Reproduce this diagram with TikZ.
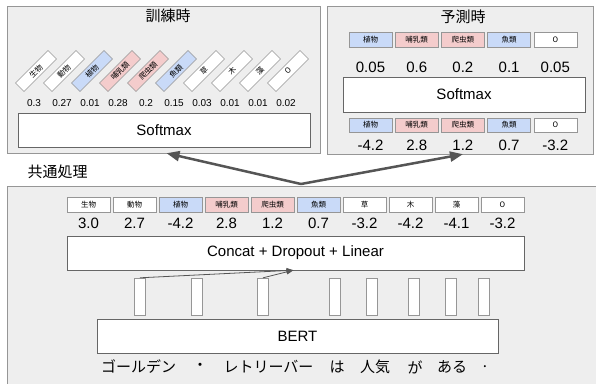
\documentclass[tikz,border=0pt]{standalone}
\usepackage{fontspec}
\setmainfont{Liberation Sans}
\newfontfamily\jpfont{Noto Sans CJK JP}
\usetikzlibrary{arrows.meta,positioning}
\definecolor{pbg}{RGB}{238,238,238}
\definecolor{pedge}{RGB}{150,150,150}
\definecolor{bedge}{RGB}{102,102,102}
\definecolor{lblue}{RGB}{201,218,248}
\definecolor{lpink}{RGB}{244,204,204}
\definecolor{aline}{RGB}{85,85,85}

\begin{document}
\begin{tikzpicture}[x=1pt,y=-1pt,
  panel/.style={draw=pedge,fill=pbg,inner sep=0pt},
  lab/.style={draw=pedge,minimum width=43pt,minimum height=15pt,inner sep=0pt,font=\jpfont\fontsize{7.5}{8}\selectfont},
  rlab/.style={lab,rotate=45,minimum width=46pt,minimum height=12pt},
  bigbox/.style={draw=bedge,fill=white,inner sep=0pt,font=\fontsize{15}{18}\selectfont},
  num/.style={font=\fontsize{15}{18}\selectfont,inner sep=0pt},
  snum/.style={font=\fontsize{10}{12}\selectfont,inner sep=0pt},
  title/.style={font=\jpfont\fontsize{15}{18}\selectfont,inner sep=0pt},
  vec/.style={draw=pedge,fill=white,minimum width=11pt,minimum height=37pt,inner sep=0pt},
  bigarr/.style={-{Triangle[length=13pt,width=10pt]},line width=2.5pt,aline},
  arr/.style={-{Triangle[length=7pt,width=5pt]},line width=0.8pt,aline}]
\clip (0,0) rectangle (596,383);
\fill[white] (0,0) rectangle (596,383);
% three panels
\node[panel,minimum width=313pt,minimum height=147pt] (train) at (163.5,79.5) {};
\node[panel,minimum width=266pt,minimum height=148pt] (pred) at (460,80) {};
\node[panel,minimum width=593pt,minimum height=204pt] (common) at (303.5,288) {};
\node[title] (ttrain) at (168,16) {訓練時};
\node[title] (tpred) at (463,17) {予測時};
\node[title] (tcommon) at (57.5,172) {共通処理};
% training side
\foreach \lab/\col/\val [count=\i from 0] in {生物/white/0.3,動物/white/0.27,植物/lblue/0.01,哺乳類/lpink/0.28,爬虫類/lpink/0.2,魚類/lblue/0.15,草/white/0.03,木/white/0.01,藻/white/0.01,O/white/0.02}{
  \node[rlab,fill=\col] (tl\i) at (36+28*\i,71) {\lab};
  \node[snum] (tv\i) at (34+28*\i,103) {\val};
}
\node[bigbox,minimum width=292pt,minimum height=34pt] (smtrain) at (164,130) {Softmax};
% prediction side
\foreach \lab/\col/\p/\v [count=\i from 0] in {植物/lblue/0.05/-4.2,哺乳類/lpink/0.6/2.8,爬虫類/lpink/0.2/1.2,魚類/lblue/0.1/0.7,O/white/0.05/-3.2}{
  \node[lab,fill=\col] (pa\i) at (370.5+46.2*\i,39.5) {\lab};
  \node[num] (pp\i) at (370.5+46.2*\i,67) {\p};
  \node[lab,fill=\col,minimum height=14pt] (pb\i) at (370.5+46.2*\i,125) {\lab};
  \node[num] (pv\i) at (370.5+46.2*\i,145) {\v};
}
\node[bigbox,minimum width=242pt,minimum height=35pt] (smpred) at (464,94.5) {Softmax};
% common part
\foreach \lab/\col/\v [count=\i from 0] in {生物/white/3.0,動物/white/2.7,植物/lblue/-4.2,哺乳類/lpink/2.8,爬虫類/lpink/1.2,魚類/lblue/0.7,草/white/-3.2,木/white/-4.2,藻/white/-4.1,O/white/-3.2}{
  \node[lab,fill=\col] (cl\i) at (88.5+46*\i,204.5) {\lab};
  \node[num] (cv\i) at (88.5+46*\i,223) {\v};
}
\node[bigbox,minimum width=457pt,minimum height=34pt] (concat) at (295.5,253) {Concat + Dropout + Linear};
\foreach \x [count=\i from 0] in {140,197,263,335,372,413.5,451,483.5}
  \node[vec] (h\i) at (\x,296.5) {};
\node[bigbox,minimum width=401pt,minimum height=34pt] (bert) at (297.5,336) {BERT};
\foreach \t/\x [count=\i from 0] in {ゴールデン/138.5,・/200,レトリーバー/268.5,は/337,人気/375,が/415,ある/452,./485}
  \node[title] (w\i) at (\x,367) {\t};
\coordinate (cin) at ([xshift=-2pt]concat.south);
\draw[arr] (h0.north) -- (cin);
\draw[arr] (h2.north) -- (cin);
\coordinate (hub) at (301,184);
\draw[bigarr] (hub) -- ([xshift=3pt]train.south);
\draw[bigarr] (hub) -- ([xshift=3pt]pred.south);
\end{tikzpicture}
\end{document}
